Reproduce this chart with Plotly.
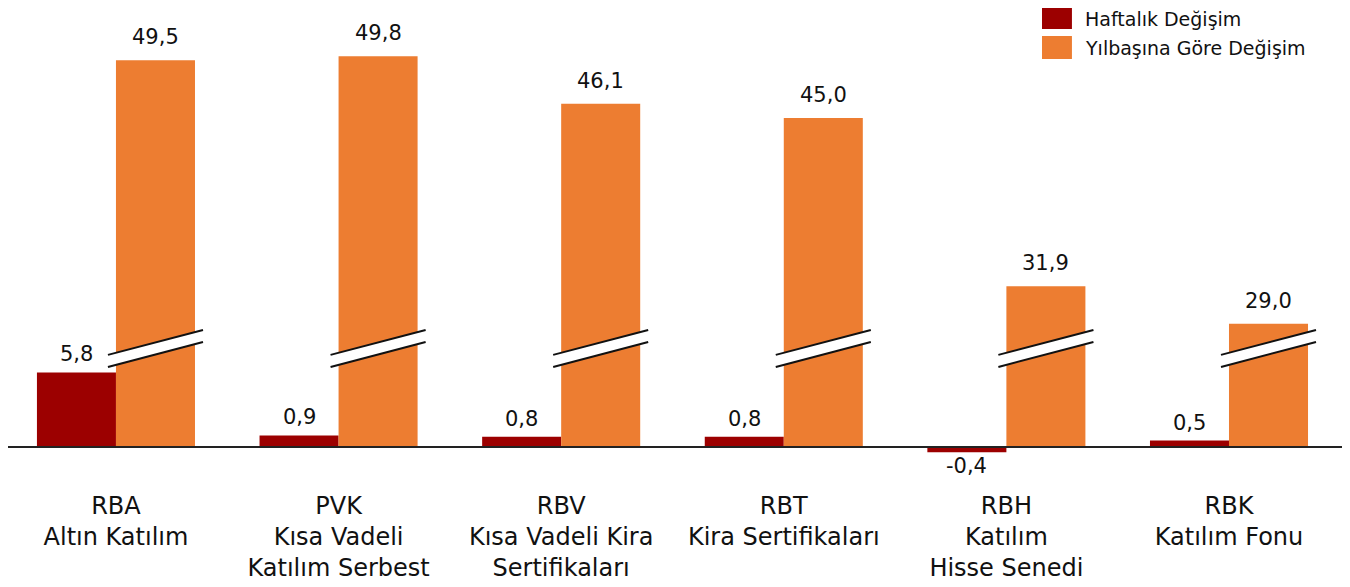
import plotly.graph_objects as go

# fund categories (tick labels)
categories = [
    "RBA<br>Altın Katılım",
    "PVK<br>Kısa Vadeli<br>Katılım Serbest",
    "RBV<br>Kısa Vadeli Kira<br>Sertifikaları",
    "RBT<br>Kira Sertifikaları",
    "RBH<br>Katılım<br>Hisse Senedi",
    "RBK<br>Katılım Fonu",
]
weekly = [5.8, 0.9, 0.8, 0.8, -0.4, 0.5]
ytd = [49.5, 49.8, 46.1, 45.0, 31.9, 29.0]

series_names = ["Haftalık Değişim", "Yılbaşına Göre Değişim"]
colors = ["#9C0000", "#ED7D31"]

# the orange bars are drawn on a broken axis: this much is cut out
BREAK = 19.4
FONT = "DejaVu Sans"


def fmt(v):
    return f"{v:.1f}".replace(".", ",")


fig = go.Figure()

fig.add_trace(go.Bar(x=categories, y=weekly,
                     marker_color=colors[0],
                     name=series_names[0],
                     showlegend=False))

ytd_shown = [v - BREAK for v in ytd]
fig.add_trace(go.Bar(x=categories, y=ytd_shown,
                     marker_color=colors[1],
                     name=series_names[1],
                     showlegend=False))

fig.update_traces(marker_line_width=0)

bar_w = (1 - 0.29) / 2

# value labels
for i in range(len(categories)):
    v = weekly[i]
    fig.add_annotation(x=i - bar_w / 2, y=v, text=fmt(v), showarrow=False,
                       yanchor="bottom" if v >= 0 else "top",
                       yshift=4 if v >= 0 else 0,
                       font=dict(size=21, color="#111111", family=FONT))
    fig.add_annotation(x=i + bar_w / 2, y=ytd_shown[i], text=fmt(ytd[i]),
                       showarrow=False, yanchor="bottom", yshift=9,
                       font=dict(size=21, color="#111111", family=FONT))

# break marks over the orange bars
ext = 0.036
for i in range(len(categories)):
    x0 = i - ext
    x1 = i + bar_w + ext
    ya, yb = 6.7, 8.64
    h = 0.47
    fig.add_shape(type="path",
                  path=f"M {x0},{ya - h} L {x1},{yb - h} L {x1},{yb + h} L {x0},{ya + h} Z",
                  fillcolor="white", line_width=0, layer="above")
    for s in (-h, h):
        fig.add_shape(type="line", x0=x0, y0=ya + s, x1=x1, y1=yb + s,
                      line=dict(color="#111111", width=2), layer="above")

# baseline
fig.add_shape(type="line", xref="paper", x0=0, x1=0.9985, y0=0, y1=0,
              line=dict(color="#222222", width=2), layer="above")

# legend
leg_y = [(1.0, 0.954), (0.9387, 0.8884)]
for (y1, y0), name, c in zip(leg_y, series_names, colors):
    fig.add_shape(type="rect", xref="paper", yref="paper",
                  x0=0.7705, x1=0.7928, y0=y0, y1=y1,
                  fillcolor=c, line_width=0)
    fig.add_annotation(xref="paper", yref="paper", x=0.8010, y=(y0 + y1) / 2,
                       text=name, showarrow=False, xanchor="left",
                       yanchor="middle",
                       font=dict(size=19, color="#111111", family=FONT))

fig.update_layout(
    width=1342, height=579,
    margin=dict(l=0, r=0, t=0, b=122),
    barmode="group", bargap=0.29, bargroupgap=0,
    plot_bgcolor="white", paper_bgcolor="white",
    font=dict(family=FONT, color="#111111"),
    xaxis=dict(showgrid=False, showline=False, ticks="",
               range=[-0.485, 5.5436], ticklabelstandoff=24,
               tickfont=dict(size=24, family=FONT, color="#111111")),
    yaxis=dict(range=[-1.40, 34.16], visible=False, showgrid=False,
               zeroline=False),
)

fig.write_html("out.html")
